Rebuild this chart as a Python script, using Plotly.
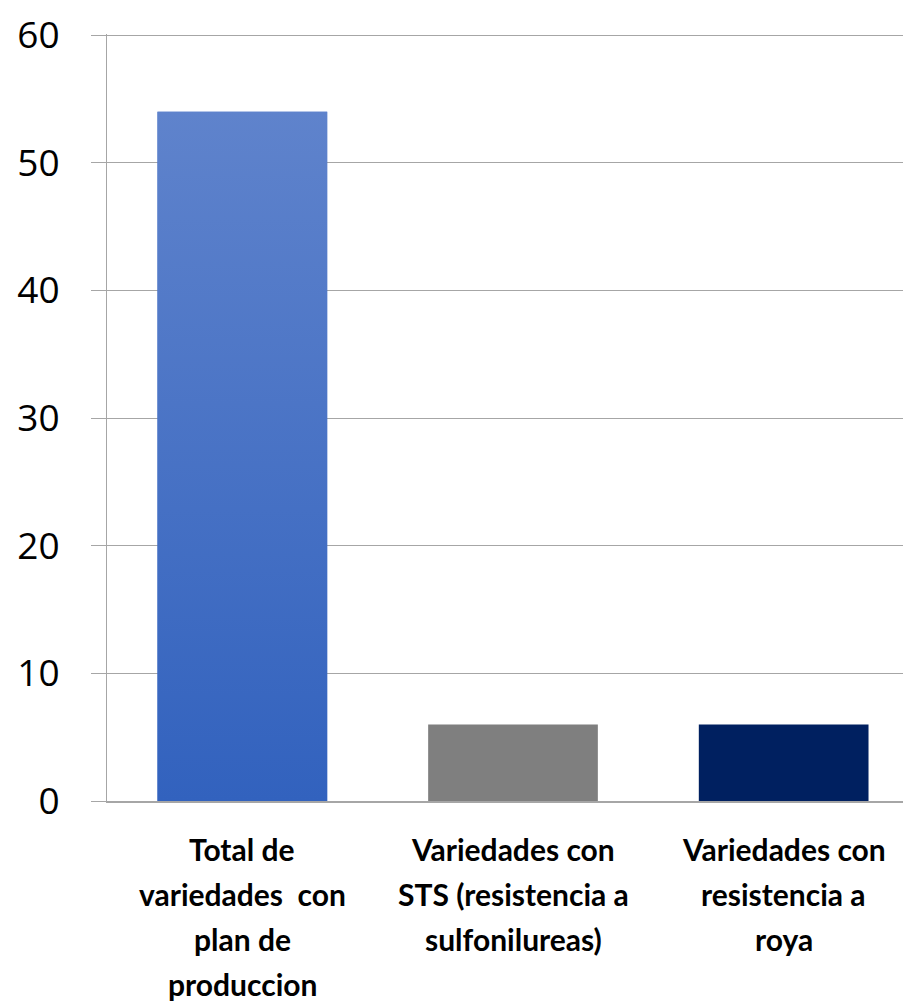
import plotly.graph_objects as go

categories = [
    ["Total de", "variedades  con", "plan de", "produccion"],
    ["Variedades con", "STS (resistencia a", "sulfonilureas)"],
    ["Variedades con", "resistencia a", "roya"],
]
values = [54, 6, 6]
bar_colors = ["#4872c6", "#7f7f7f", "#002060"]
y_ticks = [0, 10, 20, 30, 40, 50, 60]

BAR_W = 0.627
LINE_H = 45
xs = list(range(len(categories)))

fig = go.Figure()
fig.add_trace(go.Bar(
    x=xs, y=values, width=BAR_W,
    marker=dict(color=bar_colors, line=dict(width=0)),
    hoverinfo="skip", showlegend=False,
))

# gradient overlay on the first bar (light at top, darker at bottom)
x0, x1 = xs[0] - BAR_W / 2, xs[0] + BAR_W / 2
fig.add_trace(go.Scatter(
    x=[x0, x1, x1, x0, x0], y=[0, 0, values[0], values[0], 0],
    mode="lines", line=dict(width=0), fill="toself",
    fillgradient=dict(type="vertical",
                      colorscale=[[0, "#3262be"], [1, "#5f83cc"]]),
    hoverinfo="skip", showlegend=False,
))

annotations = []
for i, lines in enumerate(categories):
    for k, line in enumerate(lines):
        annotations.append(dict(
            x=xs[i], xref="x", y=0, yref="paper",
            text="<b>%s</b>" % line, showarrow=False,
            xanchor="center", yanchor="middle",
            yshift=-(48 + k * LINE_H),
            font=dict(size=30, family="Lato, sans-serif", color="black"),
        ))

fig.update_layout(
    width=911, height=1003,
    margin=dict(l=99, r=0, t=18, b=210),
    paper_bgcolor="white", plot_bgcolor="white",
    font=dict(family="Lato, Open Sans, sans-serif", color="black"),
    annotations=annotations,
)
fig.update_xaxes(
    range=[-0.5, 2.5],
    tickmode="array", tickvals=xs, ticktext=["" for _ in xs],
    showgrid=False, zeroline=False,
    showline=True, linecolor="#a6a6a6", linewidth=1.5,
    ticks="",
)
fig.update_yaxes(
    range=[0, 60.1],
    tickmode="array", tickvals=y_ticks,
    tickfont=dict(size=37, family="Open Sans, sans-serif"),
    showgrid=True, gridcolor="#a6a6a6", gridwidth=1,
    zeroline=False,
    showline=True, linecolor="#a6a6a6", linewidth=1,
    ticks="outside", ticklen=15, tickcolor="#a6a6a6", tickwidth=1,
    ticklabelstandoff=24, ticklabeloverflow="allow",
)

fig.write_html("out.html")
